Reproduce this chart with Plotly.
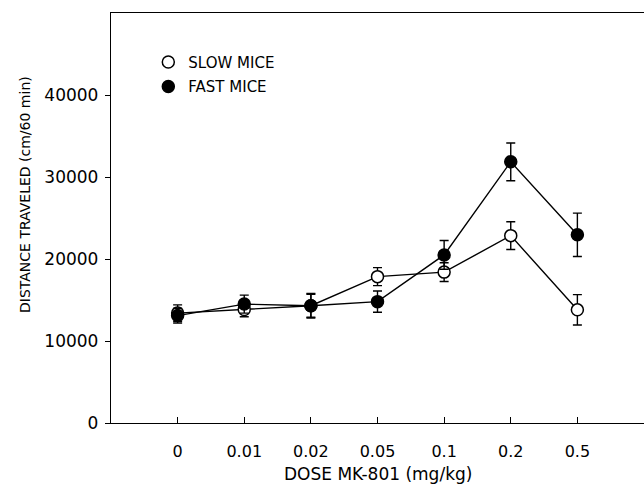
import plotly.graph_objects as go

doses = ["0", "0.01", "0.02", "0.05", "0.1", "0.2", "0.5"]
slow_mean = [13400, 13850, 14300, 17850, 18400, 22850, 13800]
slow_err = [1000, 900, 1400, 1100, 1150, 1700, 1850]
fast_mean = [13100, 14500, 14300, 14800, 20500, 31850, 22950]
fast_err = [900, 1100, 1500, 1300, 1750, 2300, 2650]
y_ticks = [0, 10000, 20000, 30000, 40000]

xpos = list(range(len(doses)))
FONT = "DejaVu Sans"

fig = go.Figure()

def add_series(name, mean, err, fill):
    fig.add_trace(go.Scatter(
        x=xpos, y=mean, mode="lines+markers", name=name, showlegend=False,
        line=dict(color="black", width=1.4),
        marker=dict(size=12, color=fill, line=dict(color="black", width=1.5), symbol="circle"),
        error_y=dict(type="data", array=err, visible=True, color="black", thickness=1.4, width=4.5),
    ))

add_series("SLOW MICE", slow_mean, slow_err, "white")
add_series("FAST MICE", fast_mean, fast_err, "black")

# legend-only markers
for name, fill, grp in [("SLOW MICE", "white", "a"), ("FAST MICE", "black", "b")]:
    fig.add_trace(go.Scatter(
        x=[None], y=[None], mode="markers", name=name, legendgroup=grp,
        marker=dict(size=12, color=fill, line=dict(color="black", width=1.5)),
    ))

fig.update_layout(
    width=644, height=486,
    margin=dict(l=111, r=0, t=13, b=63),
    paper_bgcolor="white", plot_bgcolor="white",
    font=dict(family=FONT, size=15, color="black"),
    showlegend=True,
    legend=dict(x=0.07, y=0.92, xanchor="left", yanchor="top",
                bgcolor="rgba(0,0,0,0)", font=dict(size=15, family=FONT, color="black"),
                tracegroupgap=2, traceorder="grouped"),
    xaxis=dict(
        range=[-1, 7], tickvals=xpos, ticktext=doses,
        showline=True, linecolor="black", linewidth=1.3, mirror=True,
        ticks="inside", ticklen=6, tickcolor="black", tickwidth=1.2,
        showgrid=False, zeroline=False, ticklabelstandoff=14,
        tickfont=dict(size=16, family=FONT, color="black"),
    ),
    yaxis=dict(
        range=[0, 50000], tickvals=y_ticks, ticktext=[str(v) for v in y_ticks],
        showline=True, linecolor="black", linewidth=1.3,
        ticks="outside", ticklen=5, tickcolor="black", tickwidth=1.2,
        showgrid=False, zeroline=False, ticklabelstandoff=3,
        tickfont=dict(size=17, family=FONT, color="black"),
    ),
    annotations=[
        dict(text="DOSE MK-801 (mg/kg)", xref="paper", yref="paper",
             x=0.501, y=(423 - 474) / 410, xanchor="center", yanchor="middle",
             showarrow=False, font=dict(size=17, family=FONT, color="black")),
        dict(text="DISTANCE TRAVELED (cm/60 min)", xref="paper", yref="paper",
             x=(25 - 111) / 533, y=(423 - 195) / 410, xanchor="center", yanchor="middle",
             textangle=-90, showarrow=False, font=dict(size=14, family=FONT, color="black")),
    ],
)

fig.write_html("out.html")
